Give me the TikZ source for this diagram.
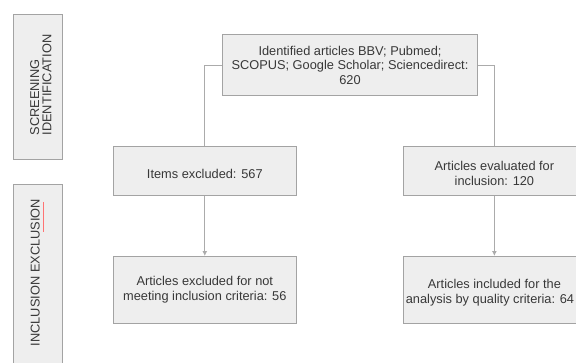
\documentclass[tikz,border=0pt]{standalone}
\usepackage{fontspec}
\setmainfont{Liberation Sans}
\usetikzlibrary{arrows.meta,calc}
\definecolor{boxfill}{HTML}{EEEEEE}
\definecolor{boxline}{HTML}{A3A3A3}
\definecolor{connline}{HTML}{ABABAB}
\definecolor{ink}{HTML}{383838}

\begin{document}
\begin{tikzpicture}[
  box/.style={draw=boxline,fill=boxfill,line width=0.7pt,inner sep=0pt,align=center,
    text=ink,font=\fontsize{9.1}{10.6}\selectfont,minimum width=4.57cm},
  side/.style={draw=boxline,fill=boxfill,line width=0.7pt,minimum width=1.225cm},
  sidetext/.style={rotate=90,align=left,text=ink,inner sep=0pt,
    font=\fontsize{9.1}{8.8}\selectfont},
  conn/.style={draw=connline,line width=0.7pt},
  tip/.style={-{Latex[length=3.4pt,width=3.4pt]}},
]
\clip (0,0) rectangle (14.4,9.075);

% Phase labels on the left
\node[side,minimum height=3.625cm] (scrbox) at (0.94,6.89) {};
\node[sidetext] (scrtext) at (1.02,6.95) {SCREENING\\IDENTIFICATION};
\node[side,minimum height=4.5cm] (incbox) at (0.94,2.2) {};
\node[sidetext] (inctext) at (0.88,2.26) {INCLUSION EXCLUSION};
\draw[red!55,line width=0.5pt] (1.08,4.03) -- (1.08,3.28);

% Flow boxes
\node[box,minimum width=6.36cm,minimum height=1.525cm] (ident) at (8.75,7.44)
  {Identified articles BBV; Pubmed;\\SCOPUS; Google Scholar; Sciencedirect:\\620};
\node[box,minimum height=1.21cm] (items) at (5.12,4.80)
  {\mbox{}\\Items excluded: 567};
\node[box,minimum height=1.21cm] (evald) at (12.36,4.80)
  {\mbox{}\\Articles evaluated for\\inclusion: 120};
\node[box,minimum height=1.665cm] (notmeet) at (5.12,1.83)
  {Articles excluded for not\\meeting inclusion criteria: 56};
\node[box,minimum height=1.665cm] (quality) at (12.36,1.83)
  {\mbox{}\\Articles included for the\hspace*{0.22cm}\\analysis by quality criteria: 64\hspace*{0.22cm}};

% Connectors
\draw[conn] (ident.west) -| (items.north);
\draw[conn] (ident.east) -| (evald.north);
\draw[conn,tip] (items) -- (notmeet);
\draw[conn,tip] (evald) -- (quality);

\end{tikzpicture}
\end{document}
